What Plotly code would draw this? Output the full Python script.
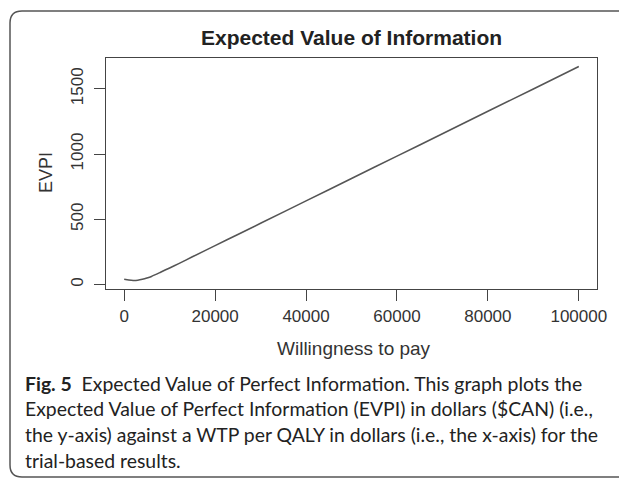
import plotly.graph_objects as go

# ---- data ----
wtp = [0, 1000, 2000, 3000, 4000, 5000, 6000, 8000, 10000, 12000, 15000, 20000,
       25000, 30000, 40000, 50000, 60000, 70000, 80000, 90000, 100000]
evpi = [40, 34, 31, 33, 40, 50, 62, 94, 127, 160, 212, 298,
        383, 469, 641, 813, 984, 1156, 1328, 1499, 1671]
x_ticks = [0, 20000, 40000, 60000, 80000, 100000]
y_ticks = [0, 500, 1000, 1500]
title = "Expected Value of Information"
x_title = "Willingness to pay"
y_title = "EVPI"
caption_lines = [
    "<b>Fig. 5</b>  Expected Value of Perfect Information. This graph plots the",
    "Expected Value of Perfect Information (EVPI) in dollars ($CAN) (i.e.,",
    "the y-axis) against a WTP per QALY in dollars (i.e., the x-axis) for the",
    "trial-based results.",
]

# ---- layout geometry (page pixels; page body has an 8px margin) ----
OFF = 8
W, H = 627 - OFF, 479 - OFF
L, R, T, B = 106 - OFF, 597 - OFF, 58 - OFF, 289 - OFF
pw, ph = R - L, B - T

def px(x):
    return (x - OFF - L) / pw

def py(y):
    return (B - (y - OFF)) / ph

def rng(v):
    lo, hi = min(v), max(v)
    d = (hi - lo) * 0.04
    return [lo - d, hi + d]

fig = go.Figure()
fig.add_trace(go.Scatter(x=wtp, y=evpi, mode="lines",
                         line=dict(color="#555555", width=1.6, shape="spline", smoothing=0.6),
                         hoverinfo="skip", showlegend=False))

axis_common = dict(showline=True, linecolor="#444444", linewidth=1.2, mirror=True,
                   ticks="outside", ticklen=11, tickwidth=1.2, tickcolor="#444444",
                   showgrid=False, zeroline=False,
                   tickfont=dict(family="Liberation Sans, Arial, sans-serif", size=17, color="#333333"))

fig.update_xaxes(range=rng(wtp), tickvals=x_ticks, ticktext=[str(v) for v in x_ticks], **axis_common)
fig.update_yaxes(range=rng(evpi), tickvals=y_ticks, ticktext=[str(v) for v in y_ticks],
                 tickangle=-90, ticklabelstandoff=4, **axis_common)

annotations = [
    dict(text=f"<b>{title}</b>", x=px(351), y=py(37), xref="paper", yref="paper",
         showarrow=False, xanchor="center", yanchor="middle",
         font=dict(family="Liberation Sans, Arial, sans-serif", size=21, color="#222222")),
    dict(text=x_title, x=px(354), y=py(348), xref="paper", yref="paper",
         showarrow=False, xanchor="center", yanchor="middle",
         font=dict(family="Liberation Sans, Arial, sans-serif", size=19, color="#333333")),
    dict(text=y_title, x=px(46), y=py(173), xref="paper", yref="paper", textangle=-90,
         showarrow=False, xanchor="center", yanchor="middle",
         font=dict(family="Liberation Sans, Arial, sans-serif", size=18, color="#333333")),
]
line_y = [383, 408, 434, 460]
for txt, yy in zip(caption_lines, line_y):
    annotations.append(dict(text=txt, x=px(23), y=py(yy), xref="paper", yref="paper",
                            showarrow=False, xanchor="left", yanchor="middle", align="left",
                            font=dict(family="Lato, Noto Sans, sans-serif", size=19.4, color="#222222")))

# rounded border around the figure
r = 12
path = (f"M {px(660)},{py(11)} L {px(10 + r)},{py(11)} Q {px(10)},{py(11)} {px(10)},{py(11 + r)} "
        f"L {px(10)},{py(477 - r)} Q {px(10)},{py(477)} {px(10 + r)},{py(477)} L {px(660)},{py(477)}")
shapes = [dict(type="path", path=path, xref="paper", yref="paper",
               line=dict(color="#555555", width=1.5))]

fig.update_layout(width=W, height=H, margin=dict(l=L, r=W - R, t=T, b=H - B, pad=0),
                  paper_bgcolor="white", plot_bgcolor="white",
                  annotations=annotations, shapes=shapes)

fig.write_html("out.html")
